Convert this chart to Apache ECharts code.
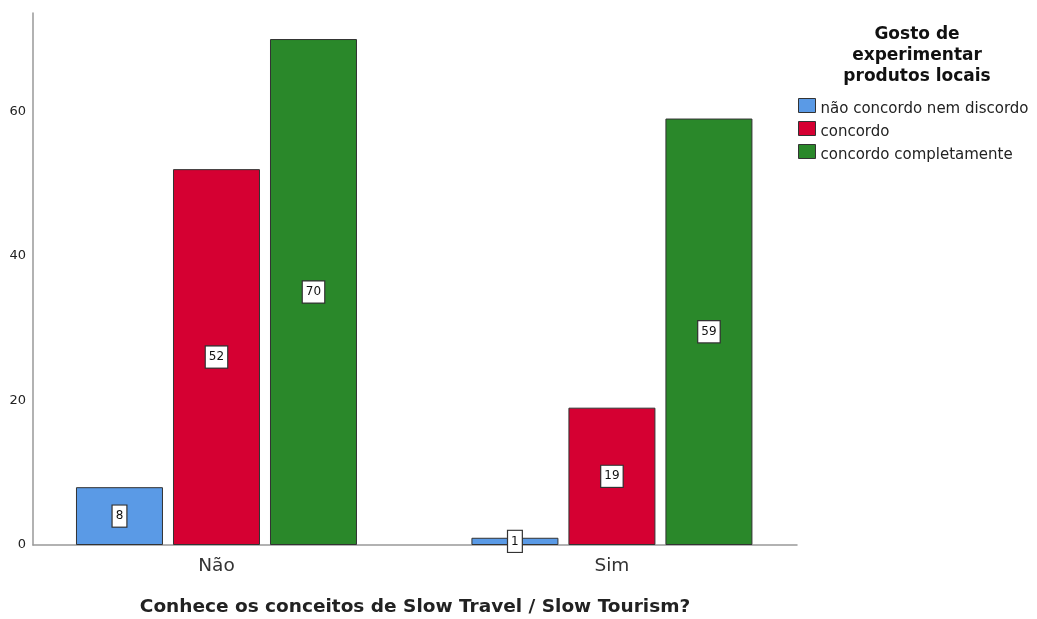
<!DOCTYPE html>
<html><head><meta charset="utf-8">
<script src="https://cdn.jsdelivr.net/npm/echarts@6/dist/echarts.min.js"></script>
<style>html,body{margin:0;padding:0;background:#fff}#c{width:1037px;height:619px}</style>
</head><body><div id="c"></div>
<script>
var categories = ['Não', 'Sim'];
var seriesNames = ['não concordo nem discordo', 'concordo', 'concordo completamente'];
var naoConcordo = [8, 1];
var concordo = [52, 19];
var concordoCompl = [70, 59];
var yTicks = [0, 20, 40, 60];
var legendTitle = 'Gosto de\nexperimentar\nprodutos locais';
var xTitle = 'Conhece os conceitos de Slow Travel / Slow Tourism?';

var colors = ['#5A9AE6', '#D50032', '#2A882A'];
var values = [naoConcordo, concordo, concordoCompl];
var chart = echarts.init(document.getElementById('c'));
var font = 'DejaVu Sans, sans-serif';

function mkSeries(i) {
  return {
    type: 'bar', name: seriesNames[i],
    data: values[i].map(function (v, k) { return [k, v]; }),
    barWidth: 87, barGap: '11.5%',
    itemStyle: { color: colors[i], borderColor: '#333', borderWidth: 1 },
    label: {
      show: true, position: 'inside', color: '#111', fontFamily: font, fontSize: 12,
      backgroundColor: '#fff', borderColor: '#333', borderWidth: 1.2,
      padding: [5, 3, 4, 3],
      formatter: function (p) { return p.value[1]; }
    }
  };
}

chart.setOption({
  animation: false,
  textStyle: { fontFamily: font },
  grid: { left: 33, right: 240, top: 13, bottom: 74, outerBoundsMode: 'none', containLabel: false },
  xAxis: {
    type: 'value', min: -0.464, max: 1.468,
    splitLine: { show: false },
    axisLine: { show: true, onZero: false, lineStyle: { color: '#999', width: 1.5 } },
    axisTick: { show: false },
    axisLabel: {
      customValues: [0, 1], color: '#333', fontSize: 18.5, margin: 12, fontFamily: font,
      formatter: function (v) { return categories[Math.round(v)]; }
    },
    name: xTitle, nameLocation: 'middle', nameGap: 62,
    nameTextStyle: { fontWeight: 'bold', fontSize: 18.5, color: '#222', fontFamily: font, verticalAlign: 'middle', padding: 0 }
  },
  yAxis: {
    type: 'value', min: 0, max: 73.6,
    splitLine: { show: false },
    axisLine: { show: true, onZero: false, lineStyle: { color: '#999', width: 1.5 } },
    axisTick: { show: false },
    axisLabel: { customValues: yTicks, color: '#222', fontSize: 13, margin: 7, fontFamily: font }
  },
  legend: {
    orient: 'vertical', left: 798, top: 94, padding: 0, itemWidth: 17, itemHeight: 14, itemGap: 0,
    icon: 'rect', data: seriesNames,
    formatter: function (n) { return '{t|' + n + '}'; },
    textStyle: {
      fontSize: 15, color: '#222', fontFamily: font,
      rich: { t: { fontSize: 15, color: '#222', fontFamily: font, lineHeight: 14, padding: [8, 0, 0, 0] } }
    },
    itemStyle: { borderColor: '#333', borderWidth: 1 }
  },
  graphic: [{
    type: 'text', x: 917, y: 24,
    style: {
      text: legendTitle, fontSize: 17, fontWeight: 'bold', fill: '#111',
      fontFamily: font, align: 'center', verticalAlign: 'top', lineHeight: 21
    }
  }],
  series: [mkSeries(0), mkSeries(1), mkSeries(2)]
});
</script></body></html>
